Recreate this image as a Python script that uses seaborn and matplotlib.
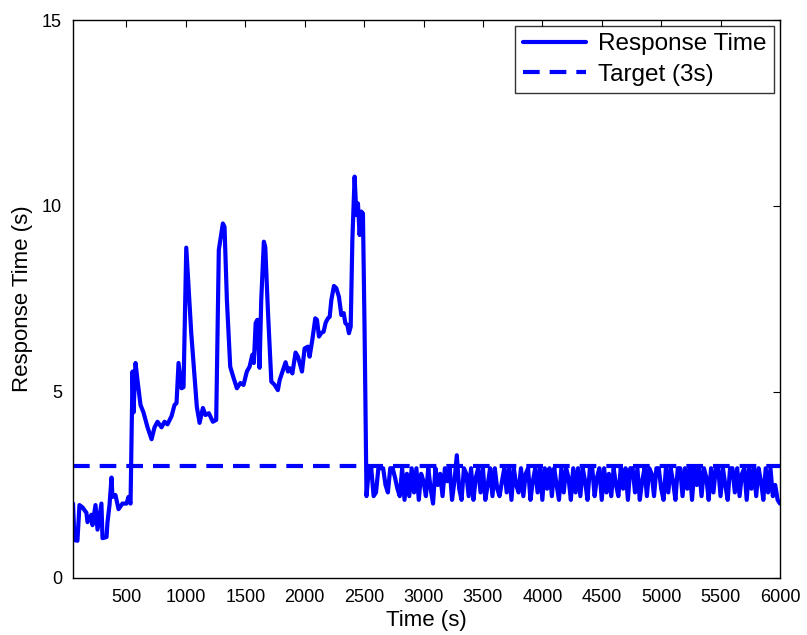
import numpy as np
import pandas as pd
import seaborn as sns
import matplotlib
matplotlib.use("Agg")
import matplotlib.pyplot as plt

# ramp-up / overload phase (time s, response s)
t_load = [50, 62, 87, 104, 129, 163, 172, 205, 214, 239, 256, 289, 298, 332, 340,
          357, 374, 382, 407, 433, 466, 500, 517, 534, 551, 559, 576, 593, 618, 643,
          677, 711, 736, 761, 795, 820, 845, 879, 904, 921, 938, 963, 980, 1003,
          1045, 1073, 1092, 1115, 1143, 1165, 1193, 1227, 1255, 1277, 1311, 1325,
          1345, 1373, 1401, 1429, 1458, 1485, 1513, 1536, 1559, 1572, 1587, 1601,
          1620, 1634, 1656, 1668, 1690, 1719, 1747, 1774, 1789, 1817, 1839, 1859,
          1873, 1896, 1923, 1943, 1977, 1999, 2027, 2041, 2064, 2089, 2103, 2120,
          2140, 2159, 2176, 2195, 2210, 2224, 2246, 2266, 2288, 2308, 2328, 2342,
          2359, 2372, 2387, 2401, 2420, 2435, 2448, 2462, 2476, 2490, 2504]
r_load = [2.0, 1.02, 1.0, 1.96, 1.9, 1.75, 1.5, 1.7, 1.42, 1.96, 1.3, 2.0, 1.07, 1.1, 1.5,
          1.96, 2.7, 2.18, 2.23, 1.85, 2.0, 2.0, 2.18, 2.0, 5.55, 4.45, 5.78, 5.3, 4.65, 4.45,
          4.05, 3.73, 4.05, 4.2, 4.05, 4.2, 4.13, 4.35, 4.65, 4.7, 5.78, 5.1, 5.13, 8.88,
          6.58, 5.4, 4.6, 4.17, 4.57, 4.38, 4.43, 4.2, 4.25, 8.82, 9.53, 9.44,
          7.47, 5.68, 5.38, 5.1, 5.24, 5.19, 5.55, 5.68, 6.0, 5.78, 6.85, 6.94,
          5.65, 7.47, 9.04, 8.9, 7.2, 5.28, 5.19, 5.05, 5.32, 5.59, 5.8, 5.55,
          5.64, 5.5, 6.06, 5.95, 5.55, 6.17, 6.22, 5.95, 6.4, 6.98, 6.94, 6.49,
          6.59, 6.62, 6.86, 6.98, 7.02, 7.47, 7.85, 7.79, 7.56, 7.07, 7.12, 6.85,
          6.8, 6.58, 6.76, 9.09, 10.79, 9.76, 10.07, 9.22, 9.85, 9.8, 6.62]

# controlled phase, every 20 s from 2520 to 6000
t_ctrl = list(range(2520, 6001, 20))
r_ctrl = [2.2, 2.95, 2.95, 2.2, 2.3, 2.95, 2.95, 2.95, 2.5, 2.3,
          2.95, 2.95, 2.7, 2.4, 2.2, 2.95, 2.1, 2.8, 2.2, 2.95,
          2.3, 2.95, 2.1, 2.8, 2.6, 2.2, 2.95, 2.4, 2.0, 2.95,
          2.5, 2.8, 2.2, 2.95, 2.6, 2.95, 2.1, 2.6, 3.3, 2.4,
          2.1, 2.95, 2.8, 2.2, 2.95, 2.1, 2.7, 2.95, 2.3, 2.95,
          2.1, 2.5, 2.95, 2.2, 2.95, 2.4, 2.2, 2.6, 2.95, 2.3,
          2.95, 2.1, 2.95, 2.5, 2.3, 2.95, 2.2, 2.8, 2.95, 2.1,
          2.6, 2.95, 2.3, 2.95, 2.1, 2.95, 2.4, 2.95, 2.2, 2.95,
          2.5, 2.1, 2.95, 2.3, 2.95, 2.7, 2.1, 2.95, 2.3, 2.95,
          2.2, 2.95, 2.6, 2.1, 2.95, 2.95, 2.2, 2.7, 2.95, 2.1,
          2.95, 2.3, 2.8, 2.2, 2.95, 2.5, 2.2, 2.95, 2.4, 2.95,
          2.1, 2.95, 2.95, 2.3, 2.95, 2.1, 2.6, 2.95, 2.2, 2.95,
          2.8, 2.2, 2.95, 2.95, 2.4, 2.1, 2.95, 2.3, 2.95, 2.6,
          2.1, 2.95, 2.95, 2.2, 2.95, 2.4, 2.95, 2.1, 2.95, 2.5,
          2.95, 2.2, 2.95, 2.7, 2.1, 2.95, 2.3, 2.95, 2.95, 2.2,
          2.95, 2.5, 2.1, 2.95, 2.95, 2.3, 2.95, 2.2, 2.8, 2.95,
          2.1, 2.95, 2.4, 2.95, 2.2, 2.95, 2.6, 2.1, 2.95, 2.3,
          2.95, 2.2, 2.5, 2.1, 2.0]

TARGET = 3
x_ticks = list(range(500, 6001, 500))
y_ticks = [0, 5, 10, 15]

df = pd.DataFrame({"Time": t_load + t_ctrl, "Response": r_load + r_ctrl})

sns.set_theme(style="white")
plt.rcParams["font.family"] = ["Liberation Sans", "DejaVu Sans"]
plt.rcParams["text.color"] = "black"
plt.rcParams["axes.labelcolor"] = "black"

fig = plt.figure(figsize=(8.07, 6.35), dpi=100)
ax = fig.add_axes([0.0905, 0.0898, 0.876, 0.8787])

lw = 3.0
sns.lineplot(data=df, x="Time", y="Response", ax=ax, color="#0000ff",
             linewidth=lw, label="Response Time", estimator=None, sort=False)
ax.axhline(TARGET, color="#0000ff", linewidth=lw, linestyle=(0, (4, 2.4)),
           label="Target (3s)")

ax.set_xlim(50, 6000)
ax.set_ylim(0, 15)
ax.set_xticks(x_ticks)
ax.set_yticks(y_ticks)
ax.tick_params(direction="in", top=True, right=True, length=5, width=0.8,
               labelsize=13, colors="black", pad=8)
for s in ax.spines.values():
    s.set_color("black")
    s.set_linewidth(1.0)
ax.set_xlabel("Time (s)", fontsize=16, labelpad=3, color="black")
ax.set_ylabel("Response Time (s)", fontsize=16, labelpad=6, color="black")

leg = ax.legend(loc="upper right", fontsize=17.5, frameon=True, fancybox=False,
                borderaxespad=0.25, handlelength=2.6, borderpad=0.3,
                labelspacing=0.35, handletextpad=0.5)
leg.get_frame().set_edgecolor("black")
leg.get_frame().set_linewidth(1.0)
for txt in leg.get_texts():
    txt.set_color("black")

fig.savefig("out.png", dpi=100)
